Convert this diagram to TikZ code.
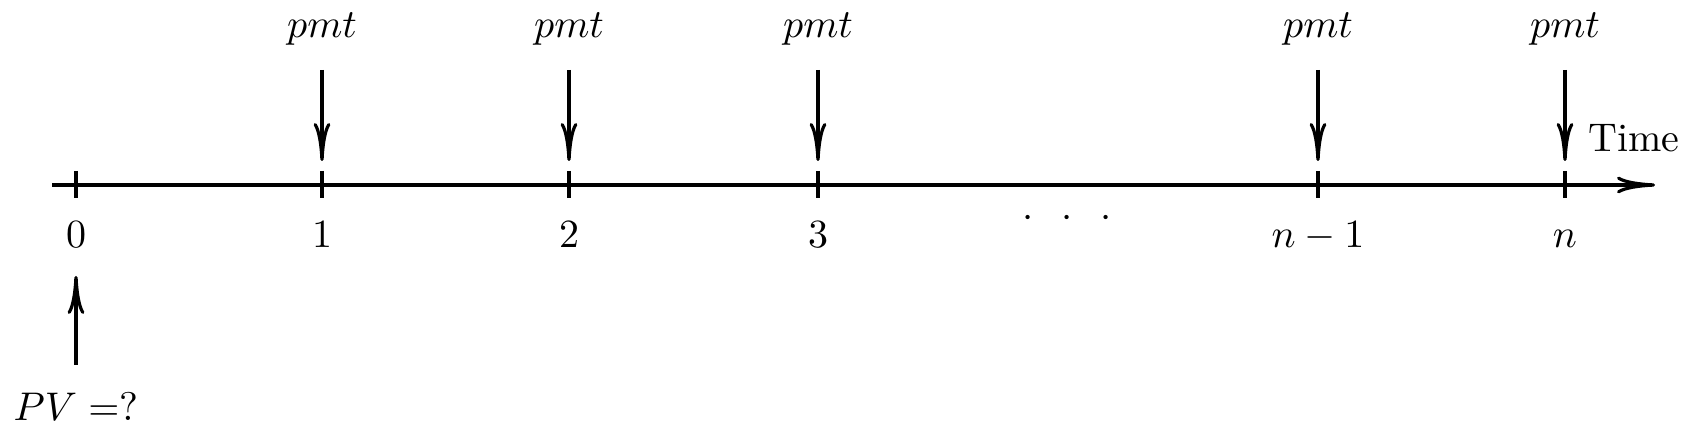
\documentclass[tikz,border=0pt]{standalone}
\usetikzlibrary{arrows.meta}
\begin{document}
\begin{tikzpicture}[x=0.25pt,y=-0.25pt,
  tipstyle/.tip={Computer Modern Rightarrow[length=9.5pt,width=4.2pt]},
  axisline/.style={thick,-tipstyle},
  tickmark/.style={thick},
  flow/.style={thick,-tipstyle},
  lab/.style={inner sep=0pt,anchor=base}]
\useasboundingbox (0,0) rectangle (1696,437);
\coordinate (axL) at (52,185);
\coordinate (axR) at (1655,185);
\draw[axisline] (axL) -- (axR);
\foreach \n/\x/\t in {0/76/0,1/322/1,2/569/2,3/818/3,4/1318/n-1,5/1565/n}{
  \coordinate (tk\n) at (\x,185);
  \coordinate (tt\n) at (\x,171);
  \coordinate (tb\n) at (\x,198);
  \draw[tickmark] (tt\n) -- (tb\n);
  \node[lab] (lb\n) at (\x,248) {$\t$};
}
\foreach \n/\x in {1/322,2/569,3/818,4/1318,5/1565}{
  \node[lab] (pmt\n) at (\x,38) {$pmt$};
  \coordinate (ps\n) at (\x,70);
  \coordinate (pe\n) at (\x,161);
  \draw[flow] (ps\n) -- (pe\n);
}
\node[lab] (time) at (1634,152) {Time};
\node[lab] (dots) at (1067,228) {$\cdot$\hspace{6.97pt}$\cdot$\hspace{6.97pt}$\cdot$};
\node[lab] (pv) at (76,421) {$PV =$?};
\coordinate (pvs) at (76,365);
\coordinate (pve) at (76,276);
\draw[flow] (pvs) -- (pve);
\end{tikzpicture}
\end{document}
